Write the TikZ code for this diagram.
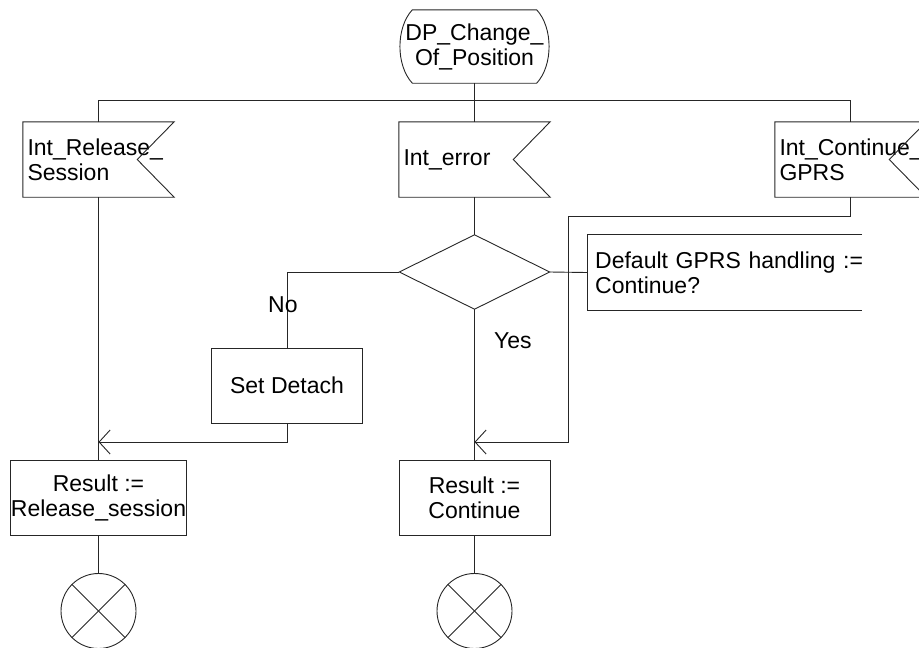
\documentclass[tikz,border=0pt]{standalone}
\usepackage{fontspec}
\setmainfont{Liberation Sans}
\usetikzlibrary{arrows.meta}
\begin{document}
\begin{tikzpicture}[x=1pt,y=-1pt,
  every node/.style={font=\fontsize{23}{25}\selectfont, inner sep=0pt},
  flow/.style={line width=0.9pt, draw=black!85},
  sig/.style={flow, -{Straight Barb[length=11pt,width=24pt]}},
  task/.style={flow, draw, minimum width=151pt, minimum height=75pt, align=center},
  sdlinput/.style={minimum width=151pt, minimum height=75pt, text width=142pt,
    inner xsep=4.5pt, align=left},
  stopsym/.style={flow, draw, circle, minimum size=75pt},
  lbl/.style={anchor=base west}
]
\useasboundingbox (0,0) rectangle (919,648);
\clip (0,0) rectangle (919,648);

% start state
\node[minimum width=149pt, minimum height=73pt, align=center] (st) at (474.5,46.5)
  {DP\_Change\_\\Of\_Position};
\draw[flow] ([xshift=12.5pt]st.north west) -- ([xshift=-12.5pt]st.north east)
  .. controls ([xshift=4pt,yshift=-18pt]st.north east) and ([xshift=4pt,yshift=18pt]st.south east)
  .. ([xshift=-12.5pt]st.south east) -- ([xshift=12.5pt]st.south west)
  .. controls ([xshift=-4pt,yshift=18pt]st.south west) and ([xshift=-4pt,yshift=-18pt]st.north west)
  .. cycle;

% input signals
\node[sdlinput] (in1) at (98.5,159.5) {Int\_Release\_\\Session};
\node[sdlinput] (in2) at (474.5,159.5) {Int\_error};
\node[sdlinput] (in3) at (850.5,159.5) {Int\_Continue\_\\GPRS};
\foreach \n in {in1,in2,in3}{
  \draw[flow] (\n.north west) -- (\n.north east) -- ([xshift=-37pt]\n.east)
    -- (\n.south east) -- (\n.south west) -- cycle;
}

% decision and its comment
\node[minimum width=150pt, minimum height=74pt] (dec) at (474.5,272) {};
\draw[flow] (dec.north) -- (dec.east) -- (dec.south) -- (dec.west) -- cycle;
\node[anchor=west, minimum height=75pt, text width=272pt, inner xsep=8pt, align=left]
  (com) at (587,272.5) {Default GPRS handling :=\\Continue?};
\draw[flow] ([xshift=275pt]com.north west) -- (com.north west)
  -- (com.south west) -- ([xshift=275pt]com.south west);

% tasks
\node[task] (sd) at (287,385.5) {Set Detach};
\node[task] (r1) at (98.5,498) {Result :=\\Release\_session};
\node[task] (r2) at (474.5,498) {Result :=\\Continue};

% stops
\node[stopsym] (t1) at (98.5,611) {};
\node[stopsym] (t2) at (474.5,611) {};
\foreach \t in {t1,t2}{
  \draw[flow] (\t.north west) -- (\t.south east);
  \draw[flow] (\t.north east) -- (\t.south west);
}

% routing points
\coordinate (bus) at (474.5,100);
\coordinate (k1) at (568,216);
\coordinate (j1) at (98.5,442);
\coordinate (j2) at (474.5,442);

% connectors
\draw[flow] (st.south) -- (bus);
\draw[flow] (in1.north |- bus) -- (in3.north |- bus);
\foreach \n in {in1,in2,in3}{ \draw[flow] (\n.north |- bus) -- (\n.north); }
\draw[flow] (in1.south) -- (r1.north);
\draw[flow] (in2.south) -- (dec.north);
\draw[flow] (dec.south) -- (r2.north);
\draw[flow] (dec.west) -| (sd.north);
\draw[flow] (dec.east) -- (com.west);
\draw[sig] (sd.south) |- (j1);
\draw[sig] (in3.south) |- (k1) |- (j2);
\draw[flow] (r1.south) -- (t1.north);
\draw[flow] (r2.south) -- (t2.north);

% decision answers
\node[lbl] (no) at (268,312) {No};
\node[lbl] (yes) at (494,348) {Yes};
\end{tikzpicture}
\end{document}
